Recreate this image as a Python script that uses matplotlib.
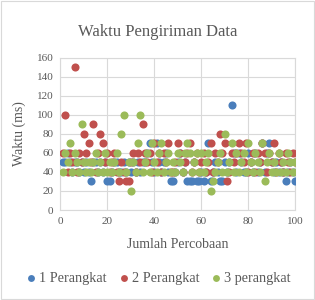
import numpy as np
import matplotlib
matplotlib.use("Agg")
import matplotlib.pyplot as plt
from matplotlib.patches import Rectangle

plt.rcParams["font.family"] = ["Liberation Serif", "DejaVu Serif"]

x = list(range(1, 101))

perangkat_1 = [50, 50, 60, 50, 40, 50, 50, 40, 50, 40,
               50, 40, 30, 50, 50, 40, 50, 40, 50, 30,
               30, 40, 50, 50, 40, 40, 50, 40, 50, 40,
               50, 40, 50, 40, 50, 50, 60, 70, 50, 40,
               70, 50, 40, 50, 60, 40, 30, 30, 40, 50,
               60, 40, 50, 30, 30, 30, 50, 30, 30, 40,
               30, 40, 70, 30, 40, 50, 40, 30, 30, 50,
               40, 50, 110, 60, 40, 60, 50, 40, 40, 60,
               50, 40, 60, 40, 50, 70, 40, 60, 70, 50,
               40, 50, 40, 50, 40, 30, 40, 50, 40, 30]

perangkat_2 = [60, 100, 40, 60, 50, 150, 40, 60, 50, 80,
               60, 70, 50, 90, 40, 60, 80, 70, 50, 60,
               40, 50, 60, 40, 30, 50, 40, 30, 30, 50,
               60, 40, 60, 50, 90, 60, 50, 60, 40, 70,
               50, 60, 40, 60, 50, 70, 40, 40, 50, 70,
               60, 40, 50, 60, 70, 40, 50, 60, 40, 50,
               60, 40, 50, 70, 40, 60, 50, 80, 60, 70,
               30, 40, 60, 50, 60, 70, 60, 50, 70, 40,
               50, 60, 40, 60, 50, 70, 60, 40, 60, 50,
               70, 40, 60, 50, 40, 60, 50, 40, 60, 50]

perangkat_3 = [40, 60, 50, 70, 40, 60, 50, 40, 90, 50,
               40, 50, 40, 50, 60, 40, 50, 40, 60, 40,
               50, 40, 50, 60, 40, 80, 100, 40, 50, 20,
               50, 40, 70, 100, 40, 50, 60, 40, 70, 50,
               40, 60, 70, 40, 50, 60, 40, 50, 40, 60,
               50, 40, 60, 70, 60, 40, 50, 60, 40, 60,
               40, 50, 60, 20, 30, 40, 50, 60, 40, 80,
               40, 50, 70, 40, 60, 40, 50, 60, 40, 70,
               50, 40, 60, 50, 40, 70, 30, 50, 60, 40,
               50, 40, 60, 40, 50, 40, 60, 50, 40, 50]

labels = ["1 Perangkat", "2 Perangkat", "3 perangkat"]
colors = ["#4A7EBB", "#C0504D", "#9BBB59"]
text_c = "#595959"

fig = plt.figure(figsize=(3.15, 3.0), dpi=100)
fig.patches.append(Rectangle((0.003, 0.003), 0.994, 0.994, transform=fig.transFigure,
                             fill=False, edgecolor="#D9D9D9", lw=0.8))
ax = fig.add_axes([0.192, 0.30, 0.745, 0.507])

for ys, lab, c in zip([perangkat_1, perangkat_2, perangkat_3], labels, colors):
    ax.scatter(x, ys, s=34, color=c, label=lab, linewidths=0, zorder=3)

ax.set_xlim(0, 100)
ax.set_ylim(0, 160)
ax.set_xticks(range(0, 101, 20))
ax.set_yticks(range(0, 161, 20))
ax.grid(True, color="#D9D9D9", lw=0.8)
ax.set_axisbelow(True)
for s in ax.spines.values():
    s.set_color("#D9D9D9")
    s.set_linewidth(0.8)
ax.tick_params(length=0, labelsize=8, colors=text_c, pad=5)

fig.text(0.5, 0.895, "Waktu Pengiriman Data", ha="center", va="center",
         fontsize=12, color=text_c)
ax.set_xlabel("Jumlah Percobaan", fontsize=10, color=text_c, labelpad=9)
ax.set_ylabel("Waktu (ms)", fontsize=10, color=text_c, labelpad=8)

fig.legend(loc="center", bbox_to_anchor=(0.5, 0.073), ncol=3, frameon=False,
           fontsize=10.3, labelcolor=text_c, handletextpad=0.05, columnspacing=0.7,
           handlelength=1.0, markerscale=0.85)

fig.savefig("out.png", dpi=100)
